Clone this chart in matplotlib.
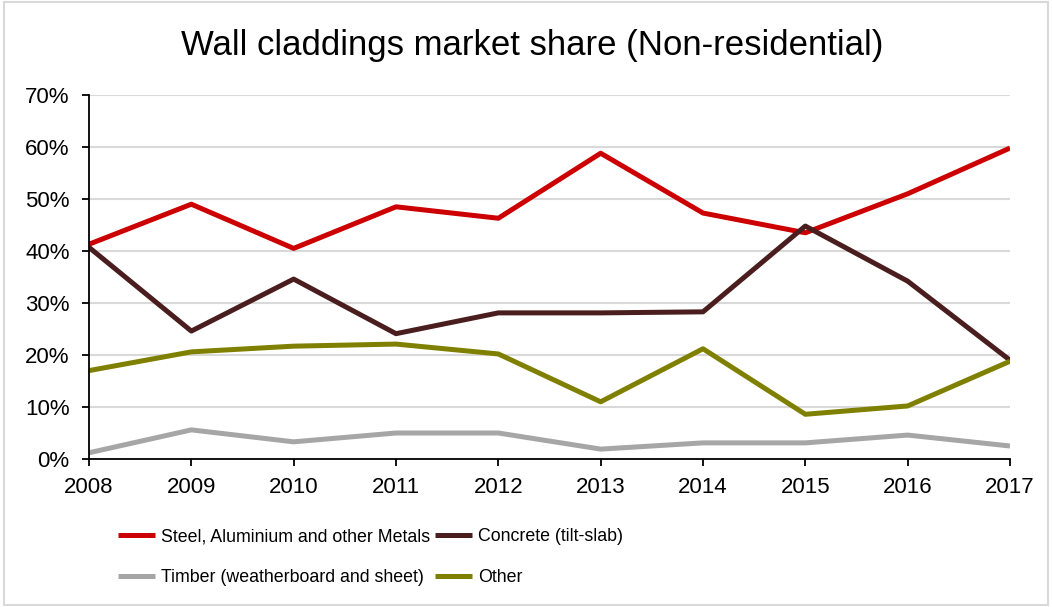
import matplotlib.pyplot as plt
from matplotlib.patches import Rectangle
from matplotlib.ticker import FuncFormatter

plt.rcParams['font.family'] = ['Liberation Sans', 'DejaVu Sans']

years = [2008, 2009, 2010, 2011, 2012, 2013, 2014, 2015, 2016, 2017]
steel = [41.3, 49.0, 40.5, 48.5, 46.3, 58.8, 47.3, 43.5, 51.0, 59.8]
concrete = [40.7, 24.6, 34.6, 24.1, 28.1, 28.1, 28.3, 44.8, 34.2, 19.0]
timber = [1.2, 5.6, 3.3, 5.0, 5.0, 1.9, 3.1, 3.1, 4.6, 2.5]
other = [17.0, 20.6, 21.7, 22.1, 20.2, 11.0, 21.2, 8.6, 10.2, 18.8]

names = ['Steel, Aluminium and other Metals', 'Concrete (tilt-slab)',
         'Timber (weatherboard and sheet)', 'Other']
colors = ['#CC0000', '#4A1E1E', '#A6A6A6', '#808000']

fig = plt.figure(figsize=(10.52, 6.07), dpi=100)
ax = fig.add_axes([89/1052, 1 - 459/607, (1010 - 89)/1052, (459 - 95)/607])

lines = []
for vals, name, c in zip([steel, concrete, timber, other], names, colors):
    l, = ax.plot(years, vals, color=c, lw=3.6, label=name, solid_capstyle='butt')
    lines.append(l)

ax.set_xlim(2008, 2017)
ax.set_ylim(0, 70)
ax.set_xticks(years)
ax.set_yticks(range(0, 71, 10))
ax.yaxis.set_major_formatter(FuncFormatter(lambda v, p: f'{v:.0f}%'))
ax.grid(axis='y', color='#d9d9d9', lw=1.5)
ax.set_axisbelow(True)
for s in ['top', 'right']:
    ax.spines[s].set_visible(False)
for s in ['left', 'bottom']:
    ax.spines[s].set_linewidth(1.3)
ax.tick_params(labelsize=16, length=5, width=1.3, colors='black')
ax.tick_params(axis='x', pad=8)
ax.tick_params(axis='y', pad=9)

fig.text(532/1052, 1 - 45/607, 'Wall claddings market share (Non-residential)',
         ha='center', va='center', fontsize=25)

order = [0, 2, 1, 3]
fig.legend([lines[i] for i in order], [names[i] for i in order],
           loc='center left', bbox_to_anchor=(118/1052, 1 - 557/607), ncol=2,
           frameon=False, borderpad=0, borderaxespad=0, fontsize=12.8,
           handlelength=2.1, handletextpad=0.3,
           columnspacing=0.3, labelspacing=1.35)

fig.patches.append(Rectangle((0.004, 0.004), 0.992, 0.992, transform=fig.transFigure,
                             fill=False, edgecolor='#d9d9d9', lw=1.5))

fig.savefig('out.png', dpi=100)
